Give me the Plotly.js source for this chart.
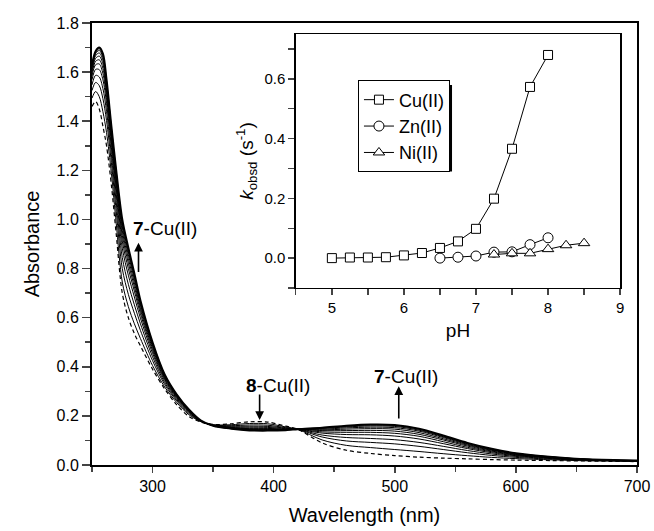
<!DOCTYPE html>
<html><head><meta charset="utf-8">
<script src="https://cdn.plot.ly/plotly-3.0.1.min.js"></script>
<style>body{margin:0;background:#fff}#chart{width:654px;height:531px}</style>
</head><body><div id="chart"></div>
<script>
// Wavelength grid (nm)
const wavelength = [250,253,256,259,262,266,270,275,280,285,290,300,310,320,330,340,350,365,380,395,410,420,440,460,480,500,520,540,560,580,600,630,660,700];
// Spectra: initial (dashed, 8-Cu(II)) -> final (7-Cu(II))
const specInitial = [1.46,1.48,1.45,1.38,1.30,1.14,0.94,0.70,0.60,0.535,0.485,0.39,0.31,0.245,0.198,0.175,0.165,0.168,0.176,0.175,0.158,0.145,0.09,0.06,0.047,0.038,0.032,0.028,0.025,0.022,0.02,0.018,0.016,0.014];
const spec1 = [1.494,1.521,1.50,1.439,1.354,1.188,0.984,0.745,0.645,0.575,0.515,0.405,0.318,0.254,0.205,0.176,0.164,0.164,0.169,0.168,0.155,0.145,0.102,0.080,0.071,0.063,0.055,0.046,0.038,0.031,0.026,0.021,0.017,0.015];
const spec2 = [1.525,1.558,1.545,1.492,1.403,1.231,1.033,0.800,0.695,0.618,0.548,0.425,0.328,0.261,0.210,0.177,0.163,0.160,0.163,0.162,0.152,0.145,0.114,0.098,0.092,0.086,0.076,0.063,0.050,0.039,0.031,0.024,0.019,0.016];
const spec3 = [1.548,1.587,1.58,1.533,1.440,1.265,1.070,0.845,0.736,0.652,0.575,0.441,0.336,0.266,0.214,0.178,0.162,0.158,0.158,0.157,0.150,0.145,0.122,0.112,0.108,0.103,0.092,0.076,0.059,0.045,0.035,0.026,0.020,0.016];
const spec4 = [1.569,1.611,1.61,1.569,1.473,1.294,1.103,0.883,0.773,0.684,0.598,0.455,0.344,0.271,0.217,0.178,0.162,0.155,0.154,0.153,0.148,0.145,0.130,0.124,0.123,0.118,0.106,0.087,0.067,0.050,0.038,0.028,0.020,0.017];
const spec5 = [1.584,1.630,1.633,1.595,1.497,1.315,1.127,0.912,0.800,0.708,0.616,0.466,0.350,0.275,0.219,0.179,0.161,0.153,0.150,0.149,0.146,0.145,0.135,0.133,0.133,0.129,0.117,0.095,0.072,0.054,0.040,0.029,0.021,0.017];
const spec6 = [1.596,1.644,1.65,1.616,1.516,1.332,1.146,0.935,0.822,0.726,0.630,0.475,0.355,0.278,0.221,0.179,0.161,0.152,0.148,0.147,0.145,0.146,0.140,0.140,0.141,0.138,0.125,0.102,0.077,0.057,0.042,0.030,0.022,0.017];
const spec7 = [1.606,1.656,1.665,1.634,1.532,1.346,1.162,0.954,0.841,0.742,0.641,0.483,0.359,0.281,0.222,0.180,0.161,0.151,0.146,0.145,0.144,0.146,0.143,0.146,0.148,0.146,0.132,0.107,0.081,0.060,0.044,0.031,0.022,0.017];
const spec8 = [1.615,1.667,1.678,1.648,1.546,1.358,1.176,0.970,0.857,0.756,0.652,0.489,0.363,0.283,0.223,0.180,0.160,0.150,0.144,0.143,0.143,0.146,0.146,0.151,0.154,0.152,0.138,0.112,0.084,0.062,0.045,0.032,0.022,0.018];
const spec9 = [1.622,1.675,1.688,1.660,1.557,1.368,1.187,0.984,0.869,0.767,0.660,0.494,0.366,0.285,0.224,0.180,0.160,0.149,0.143,0.142,0.143,0.146,0.149,0.155,0.159,0.157,0.142,0.115,0.087,0.064,0.047,0.032,0.023,0.018];
const spec10 = [1.627,1.681,1.695,1.669,1.565,1.375,1.195,0.993,0.879,0.775,0.666,0.498,0.368,0.286,0.225,0.180,0.160,0.148,0.142,0.141,0.142,0.146,0.151,0.158,0.163,0.161,0.146,0.118,0.089,0.065,0.047,0.033,0.023,0.018];
const specFinal = [1.63,1.685,1.70,1.675,1.57,1.38,1.20,1.00,0.885,0.78,0.67,0.50,0.369,0.287,0.226,0.181,0.160,0.148,0.141,0.140,0.142,0.146,0.152,0.16,0.165,0.163,0.148,0.12,0.09,0.066,0.048,0.033,0.023,0.018];

// Inset: k_obsd vs pH
const pHCu = [5,5.25,5.5,5.75,6,6.25,6.5,6.75,7,7.25,7.5,7.75,8];
const kCu = [0,0.002,0.002,0.003,0.009,0.017,0.034,0.056,0.098,0.199,0.366,0.573,0.68];
const pHZn = [6.5,6.75,7,7.25,7.5,7.75,8];
const kZn = [0,0.003,0.007,0.02,0.021,0.045,0.068];
const pHNi = [7.25,7.5,7.75,8,8.25,8.5];
const kNi = [0.012,0.016,0.016,0.03,0.043,0.05];
const seriesNames = ['Cu(II)','Zn(II)','Ni(II)'];

const FONT = 'Liberation Sans, Arial, sans-serif';
const middle = [spec1,spec2,spec3,spec4,spec5,spec6,spec7,spec8,spec9,spec10];
const traces = [];
traces.push({x: wavelength, y: specInitial, type:'scatter', mode:'lines', showlegend:false,
  line:{color:'#000', width:1.2, dash:'4px,3px', shape:'spline', smoothing:0.9}, xaxis:'x', yaxis:'y'});
middle.forEach(s => traces.push({x: wavelength, y: s, type:'scatter', mode:'lines', showlegend:false,
  line:{color:'#000', width:1, shape:'spline', smoothing:0.9}, xaxis:'x', yaxis:'y'}));
traces.push({x: wavelength, y: specFinal, type:'scatter', mode:'lines', showlegend:false,
  line:{color:'#000', width:2, shape:'spline', smoothing:0.9}, xaxis:'x', yaxis:'y'});

const mk = (sym, sz) => ({symbol: sym, size: sz, color:'#fff', line:{color:'#000', width:1}});
traces.push({x:pHCu, y:kCu, name:seriesNames[0], type:'scatter', mode:'lines+markers',
  line:{color:'#000', width:1}, marker: mk('square', 9), xaxis:'x2', yaxis:'y2'});
traces.push({x:pHZn, y:kZn, name:seriesNames[1], type:'scatter', mode:'lines+markers',
  line:{color:'#000', width:1}, marker: mk('circle', 10), xaxis:'x2', yaxis:'y2'});
traces.push({x:pHNi, y:kNi, name:seriesNames[2], type:'scatter', mode:'lines+markers',
  line:{color:'#000', width:1}, marker: mk('triangle-up', 10), xaxis:'x2', yaxis:'y2'});

const arrowCommon = {xref:'x', yref:'y', axref:'x', ayref:'y', text:'', showarrow:true,
  arrowhead:2, arrowsize:1.1, arrowwidth:1.6, arrowcolor:'#000'};

const layout = {
  width:654, height:531,
  margin:{l:92, r:17, t:23, b:66},
  paper_bgcolor:'#fff', plot_bgcolor:'#fff',
  font:{family:FONT, color:'#000', size:16},
  showlegend:true,
  legend:{x:0.488, y:0.87, xanchor:'left', yanchor:'top', bgcolor:'#fff', bordercolor:'#000', borderwidth:1,
    font:{size:18, family:FONT}, tracegroupgap:0, itemwidth:30},
  xaxis:{domain:[0,1], range:[250,700], tick0:300, dtick:100, ticks:'outside', ticklen:6, tickwidth:1.5,
    showline:true, linewidth:2, linecolor:'#000', mirror:true, showgrid:false, zeroline:false,
    tickfont:{size:16}, anchor:'y',
    minor:{dtick:50, ticks:'outside', ticklen:5, tickwidth:1.5, showgrid:false},
    title:{text:'Wavelength (nm)', font:{size:20}, standoff:14}},
  yaxis:{domain:[0,1], range:[0,1.8], dtick:0.2, tickformat:'.1f', ticks:'outside', ticklen:8, tickwidth:1.5,
    showline:true, linewidth:2, linecolor:'#000', mirror:true, showgrid:false, zeroline:false,
    tickfont:{size:16}, anchor:'x',
    minor:{dtick:0.1, ticks:'outside', ticklen:5, tickwidth:1.5, showgrid:false},
    title:{text:'Absorbance', font:{size:20}, standoff:12}},
  xaxis2:{domain:[0.374,0.969], range:[4.5,9], dtick:1, ticks:'outside', ticklen:6, tickwidth:1.3,
    showline:true, linewidth:1.5, linecolor:'#000', mirror:true, showgrid:false, zeroline:false,
    tickfont:{size:15}, anchor:'y2',
    minor:{dtick:0.5, ticks:'outside', ticklen:6, tickwidth:1.3, showgrid:false},
    title:{text:'pH', font:{size:19}, standoff:8}},
  yaxis2:{domain:[0.4005,0.975], range:[-0.1,0.75], tick0:0, dtick:0.2, tickformat:'.1f', ticks:'outside', ticklen:6, tickwidth:1.3,
    showline:true, linewidth:1.5, linecolor:'#000', mirror:true, showgrid:false, zeroline:false,
    tickfont:{size:15}, anchor:'x2',
    minor:{dtick:0.1, ticks:'outside', ticklen:6, tickwidth:1.3, showgrid:false},
    title:{text:'<i>k</i><sub>obsd</sub> (s<sup>-1</sup>)', font:{size:19}, standoff:6}},
  shapes:[
    {type:'rect', xref:'paper', yref:'paper', x0:0.4936, x1:0.6606, y0:0.664, y1:0.860,
      fillcolor:'#000', line:{width:0}, layer:'above'}
  ],
  annotations:[
    {xref:'x', yref:'y', x:310, y:0.964, text:'<b>7</b>-Cu(II)', showarrow:false, font:{size:19}, xanchor:'center', yanchor:'middle'},
    Object.assign({x:288.4, y:0.905, ax:288.4, ay:0.78}, arrowCommon),
    {xref:'x', yref:'y', x:403.3, y:0.325, text:'<b>8</b>-Cu(II)', showarrow:false, font:{size:19}, xanchor:'center', yanchor:'middle'},
    Object.assign({x:388.4, y:0.183, ax:388.4, ay:0.293}, arrowCommon),
    {xref:'x', yref:'y', x:509, y:0.359, text:'<b>7</b>-Cu(II)', showarrow:false, font:{size:19}, xanchor:'center', yanchor:'middle'},
    Object.assign({x:503.3, y:0.321, ax:503.3, ay:0.183}, arrowCommon)
  ]
};
Plotly.newPlot('chart', traces, layout, {displayModeBar:false, staticPlot:true});
</script></body></html>
